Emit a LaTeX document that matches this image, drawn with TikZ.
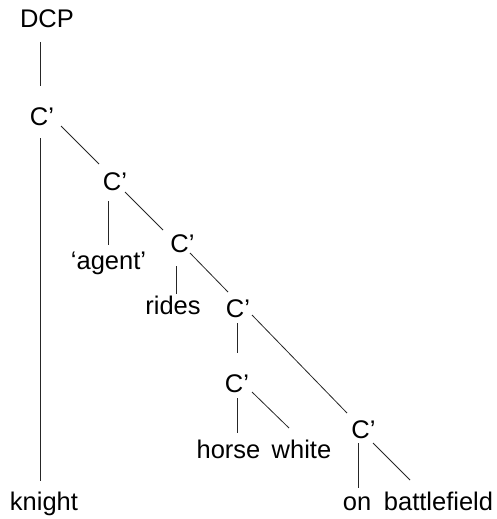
\documentclass[tikz,border=0pt]{standalone}
\usepackage{fontspec}
\setmainfont{Liberation Sans}
\usetikzlibrary{calc}
\begin{document}
\begin{tikzpicture}[x=1pt,y=-1pt,
  lbl/.style={inner sep=0pt,anchor=base,font=\fontsize{25.5}{30}\selectfont},
  edge/.style={line width=0.8pt,draw=black!85}]
\useasboundingbox (0,0) rectangle (497,519);
\node[lbl] (dcp) at (47,28) {DCP};
\node[lbl] (c1) at (42,125) {C’};
\node[lbl] (c2) at (115,190) {C’};
\node[lbl] (c3) at (182.5,252) {C’};
\node[lbl] (c4) at (238,317) {C’};
\node[lbl] (c5) at (237,392) {C’};
\node[lbl] (c6) at (363.5,438) {C’};
\node[lbl] (knight) at (44,510) {knight};
\node[lbl] (agent) at (108.5,269) {‘agent’};
\node[lbl] (rides) at (173,314) {rides};
\node[lbl] (horse) at (228.5,458) {horse};
\node[lbl] (white) at (301.5,458) {white};
\node[lbl] (on) at (357,510) {on};
\node[lbl] (bf) at (438.5,510) {battlefield};
\draw[edge] ($(dcp.base)+(-7,14)$) -- ($(c1.base)+(-2,-39)$);
\draw[edge] ($(c1.base)+(-2,13)$) -- ($(knight.base)+(-4,-29)$);
\draw[edge] ($(c1.base)+(19,1)$) -- ($(c2.base)+(-16,-26)$);
\draw[edge] ($(c2.base)+(-7,11)$) -- ($(agent.base)+(-0.5,-24)$);
\draw[edge] ($(c2.base)+(10,2)$) -- ($(c3.base)+(-19.5,-22)$);
\draw[edge] ($(c3.base)+(-6.5,14)$) -- ($(rides.base)+(3,-20)$);
\draw[edge] ($(c3.base)+(7.5,1)$) -- ($(c4.base)+(-10,-25)$);
\draw[edge] ($(c4.base)+(-1,6)$) -- ($(c5.base)+(0,-39)$);
\draw[edge] ($(c4.base)+(14,-2)$) -- ($(c6.base)+(-16.5,-25)$);
\draw[edge] ($(c5.base)+(0,6)$) -- ($(horse.base)+(8.5,-25)$);
\draw[edge] ($(c5.base)+(15,0)$) -- ($(white.base)+(-12.5,-30)$);
\draw[edge] ($(c6.base)+(-5.5,5)$) -- ($(on.base)+(1,-22)$);
\draw[edge] ($(c6.base)+(9.5,5)$) -- ($(bf.base)+(-28.5,-30)$);
\end{tikzpicture}
\end{document}
